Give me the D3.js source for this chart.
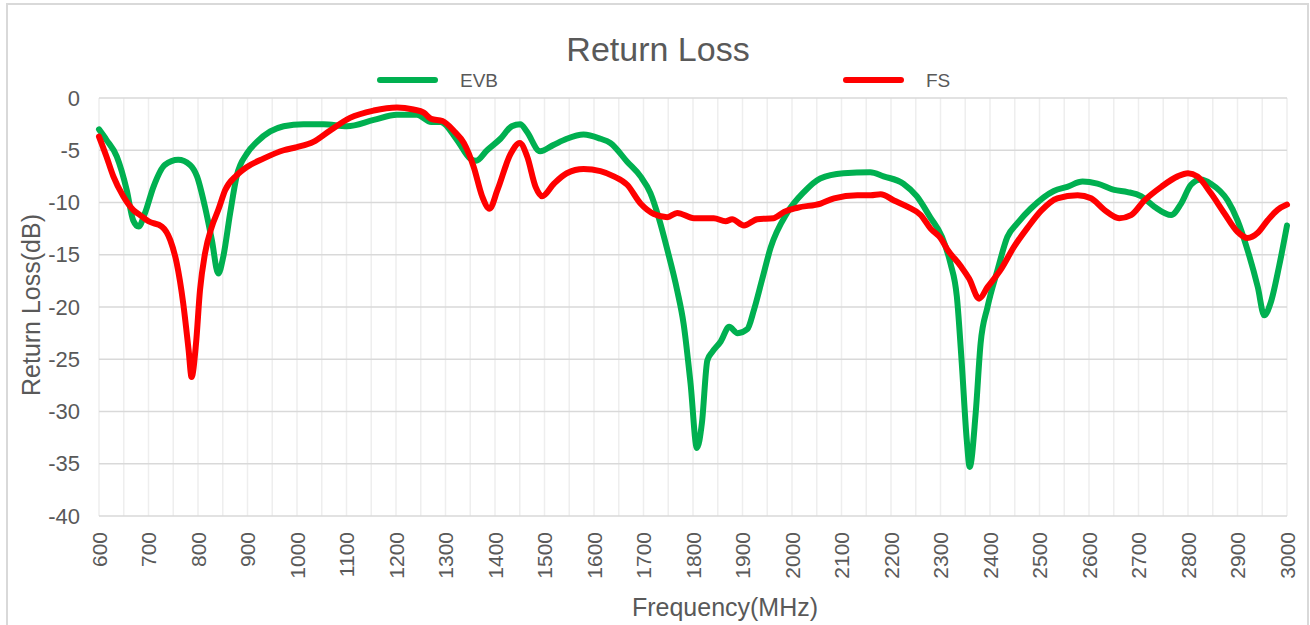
<!DOCTYPE html>
<html>
<head>
<meta charset="utf-8">
<script src="https://cdn.jsdelivr.net/npm/d3@7"></script>
<style>
  body { margin: 0; background: #fff; }
  text { font-family: "Liberation Sans", Arial, sans-serif; fill: #595959; }
</style>
</head>
<body>
<div id="chart"></div>
<script>
// EVB curve (MHz, dB)
const evbFreq = [600, 615, 636, 656, 669, 680, 693, 710, 733, 760, 784, 798, 814, 828, 841, 851, 865, 878, 899, 919,
  946, 973, 1013, 1054, 1101, 1155, 1202, 1242, 1271, 1290, 1323, 1350, 1362, 1384, 1411, 1434, 1451, 1464, 1491, 1518,
  1545, 1579, 1613, 1633, 1667, 1694, 1714, 1731, 1748, 1768, 1781, 1795, 1808, 1818, 1829, 1839, 1856, 1873, 1890, 1910,
  1923, 1940, 1957, 1990, 2024, 2057, 2104, 2158, 2185, 2225, 2252, 2279, 2303, 2320, 2333, 2343, 2353, 2359, 2371, 2381,
  2395, 2415, 2435, 2455, 2482, 2529, 2556, 2587, 2617, 2651, 2678, 2705, 2732, 2766, 2786, 2806, 2826, 2846, 2880, 2900,
  2920, 2941, 2954, 2967, 2984, 3000];
const evbDb = [-3.0, -4.0, -5.6, -8.8, -11.7, -12.3, -11.0, -8.5, -6.4, -5.9, -6.4, -7.5, -10.4, -13.6, -16.8, -15.2, -11.0, -7.5, -5.3, -4.2,
  -3.2, -2.7, -2.5, -2.5, -2.7, -2.1, -1.6, -1.6, -2.3, -2.3, -4.0, -5.8, -6.0, -5.0, -3.9, -2.7, -2.5, -3.2, -5.1, -4.5,
  -3.9, -3.5, -3.9, -4.3, -6.1, -7.5, -9.1, -11.5, -14.5, -18.4, -21.6, -27.3, -33.5, -31.1, -25.1, -24.3, -23.3, -21.9, -22.5, -22.1,
  -20.3, -17.3, -14.3, -11.0, -9.0, -7.7, -7.2, -7.1, -7.5, -8.2, -9.4, -11.4, -13.3, -15.8, -19.0, -25.4, -32.7, -35.3, -30.2, -23.5,
  -20.0, -16.5, -13.3, -12.0, -10.6, -8.9, -8.5, -8.0, -8.2, -8.8, -9.0, -9.4, -10.4, -11.2, -10.1, -8.3, -7.8, -8.2, -9.8, -11.7,
  -14.5, -18.1, -20.8, -19.6, -16.1, -12.2];

// FS curve
const fsFreq = [600, 615, 629, 649, 669, 683, 700, 727, 744, 757, 770, 781, 787, 796, 804, 814, 828, 841, 855, 878,
  899, 932, 973, 1000, 1033, 1067, 1107, 1155, 1202, 1235, 1256, 1271, 1294, 1318, 1337, 1357, 1374, 1389, 1405, 1431,
  1450, 1465, 1482, 1495, 1519, 1545, 1579, 1613, 1640, 1667, 1694, 1721, 1748, 1768, 1802, 1842, 1866, 1879, 1903, 1930,
  1963, 1984, 2011, 2058, 2085, 2132, 2159, 2179, 2206, 2233, 2260, 2280, 2300, 2314, 2341, 2358, 2378, 2395, 2422, 2449,
  2476, 2503, 2536, 2577, 2604, 2631, 2661, 2685, 2712, 2746, 2779, 2800, 2819, 2846, 2873, 2900, 2920, 2941, 2961, 2981, 3000];
const fsDb = [-3.7, -5.6, -7.5, -9.4, -10.7, -11.2, -11.8, -12.3, -13.6, -15.8, -19.6, -24.1, -26.7, -23.5, -18.4, -14.9, -12.3, -10.7, -8.8, -7.4,
  -6.6, -5.8, -5.0, -4.7, -4.2, -3.1, -1.9, -1.2, -0.9, -1.1, -1.4, -2.0, -2.2, -3.2, -4.3, -6.6, -9.4, -10.6, -8.8, -5.4,
  -4.3, -5.6, -8.5, -9.4, -8.2, -7.2, -6.8, -7.0, -7.5, -8.3, -10.1, -11.1, -11.4, -11.0, -11.5, -11.5, -11.8, -11.6, -12.2, -11.6,
  -11.5, -10.9, -10.5, -10.1, -9.6, -9.3, -9.3, -9.2, -9.8, -10.4, -11.2, -12.5, -13.4, -14.5, -16.1, -17.3, -19.2, -18.1, -16.4, -14.2,
  -12.4, -10.8, -9.6, -9.3, -9.6, -10.7, -11.5, -11.2, -9.8, -8.5, -7.5, -7.2, -7.5, -9.1, -11.0, -12.8, -13.4, -12.9, -11.7, -10.7, -10.2];

const xTickValues = [600, 700, 800, 900, 1000, 1100, 1200, 1300, 1400, 1500, 1600, 1700, 1800, 1900,
  2000, 2100, 2200, 2300, 2400, 2500, 2600, 2700, 2800, 2900, 3000];
const yTickValues = [0, -5, -10, -15, -20, -25, -30, -35, -40];

const series = [
  { name: "EVB", color: "#00b050", freq: evbFreq, db: evbDb, legendX: 380 },
  { name: "FS", color: "#ff0000", freq: fsFreq, db: fsDb, legendX: 846 }
];

const W = 1310, H = 625;
const margin = { top: 98, right: 23, bottom: 109, left: 99 };
const width = W - margin.left - margin.right;
const height = H - margin.top - margin.bottom;

const svg = d3.select("#chart").append("svg")
  .attr("width", W)
  .attr("height", H);

// outer chart frame
svg.append("rect")
  .attr("x", 7).attr("y", 4)
  .attr("width", 1301).attr("height", 640)
  .attr("fill", "none")
  .attr("stroke", "#d9d9d9")
  .attr("stroke-width", 2);

const g = svg.append("g").attr("transform", `translate(${margin.left},${margin.top})`);

const x = d3.scaleLinear().domain([600, 3000]).range([0, width]);
const y = d3.scaleLinear().domain([-40, 0]).range([height, 0]);

// minor vertical grid every 50 MHz
g.append("g")
  .selectAll("line")
  .data(d3.range(600, 3001, 50))
  .join("line")
  .attr("x1", d => x(d)).attr("x2", d => x(d))
  .attr("y1", 0).attr("y2", height)
  .attr("stroke", "#eeeeee")
  .attr("stroke-width", 1.5);

// horizontal grid
g.append("g")
  .selectAll("line")
  .data(yTickValues)
  .join("line")
  .attr("x1", 0).attr("x2", width)
  .attr("y1", d => y(d)).attr("y2", d => y(d))
  .attr("stroke", "#d9d9d9")
  .attr("stroke-width", 1.5);

// y axis labels (plain hyphen like the original)
const yAxis = g.append("g")
  .call(d3.axisLeft(y).tickValues(yTickValues).tickSize(0).tickPadding(19).tickFormat(d => String(d)));
yAxis.select(".domain").remove();
yAxis.selectAll("text")
  .style("font-size", "22px")
  .attr("fill", "#595959");

// x axis labels, rotated
const xAxis = g.append("g")
  .attr("transform", `translate(0,${height})`)
  .call(d3.axisBottom(x).tickValues(xTickValues).tickSize(0).tickFormat(d => String(d)));
xAxis.select(".domain").remove();
xAxis.selectAll("text")
  .style("font-size", "21px")
  .attr("fill", "#595959")
  .attr("text-anchor", "end")
  .attr("transform", "rotate(-90)")
  .attr("x", -16)
  .attr("y", 0)
  .attr("dy", "0.35em");

// curves
const line = d3.line()
  .x(d => x(d[0]))
  .y(d => y(d[1]))
  .curve(d3.curveMonotoneX);

series.forEach(s => {
  g.append("path")
    .datum(d3.zip(s.freq, s.db))
    .attr("fill", "none")
    .attr("stroke", s.color)
    .attr("stroke-width", 6)
    .attr("stroke-linejoin", "round")
    .attr("stroke-linecap", "round")
    .attr("d", line);
});

// title
svg.append("text")
  .attr("x", 658).attr("y", 61)
  .attr("text-anchor", "middle")
  .style("font-size", "34px")
  .text("Return Loss");

// legend
series.forEach(s => {
  svg.append("line")
    .attr("x1", s.legendX).attr("x2", s.legendX + 55)
    .attr("y1", 80).attr("y2", 80)
    .attr("stroke", s.color)
    .attr("stroke-width", 6)
    .attr("stroke-linecap", "round");
  svg.append("text")
    .attr("x", s.legendX + 80).attr("y", 87)
    .style("font-size", "19px")
    .text(s.name);
});

// axis titles
svg.append("text")
  .attr("transform", "translate(40,305) rotate(-90)")
  .attr("text-anchor", "middle")
  .style("font-size", "25px")
  .text("Return Loss(dB)");

svg.append("text")
  .attr("x", 725).attr("y", 616)
  .attr("text-anchor", "middle")
  .style("font-size", "25px")
  .text("Frequency(MHz)");
</script>
</body>
</html>
